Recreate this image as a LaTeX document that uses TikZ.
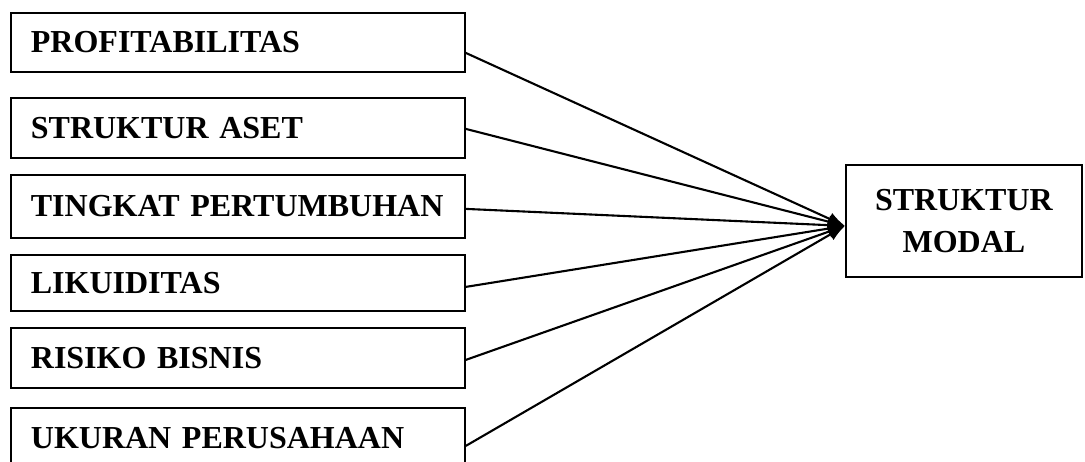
\documentclass[tikz,border=0pt]{standalone}
\usepackage{fontspec}
\setmainfont{Liberation Serif}
\usetikzlibrary{arrows.meta}
\begin{document}
\begin{tikzpicture}[x=1pt,y=-1pt,
  varbox/.style={draw, line width=1.8pt, anchor=north west, inner xsep=20pt, inner ysep=0pt,
    text width=414pt, align=left, font=\fontsize{32}{38}\selectfont\bfseries},
  targetbox/.style={draw, line width=1.8pt, anchor=north west, inner sep=0pt,
    minimum width=236pt, minimum height=112pt, align=center,
    font=\fontsize{32}{42}\selectfont\bfseries},
  conn/.style={line width=2.1pt, -{Latex[length=17pt,width=13pt]}}]
\useasboundingbox (0,0) rectangle (1085,461);
\clip (0,0) rectangle (1085,461);
\fill[white] (0,0) rectangle (1085,461);
\node[varbox, minimum height=59pt] (b1) at (10,12) {PROFITABILITAS};
\node[varbox, minimum height=60pt] (b2) at (10,97) {STRUKTUR ASET};
\node[varbox, minimum height=63pt] (b3) at (10,174) {TINGKAT PERTUMBUHAN};
\node[varbox, minimum height=56pt] (b4) at (10,254) {LIKUIDITAS};
\node[varbox, minimum height=60pt] (b5) at (10,327) {RISIKO BISNIS};
\node[varbox, minimum height=60pt] (b6) at (10,407) {UKURAN PERUSAHAAN};
\node[targetbox] (t) at (845,164) {STRUKTUR\\MODAL};
\coordinate (tip) at ([yshift=-5pt]t.west);
\draw[conn] ([yshift=-10.5pt]b1.east) -- (tip);
\draw[conn] ([yshift=-1pt]b2.east) -- (tip);
\draw[conn] ([yshift=-2.5pt]b3.east) -- (tip);
\draw[conn] ([yshift=-4pt]b4.east) -- (tip);
\draw[conn] ([yshift=-2pt]b5.east) -- (tip);
\draw[conn] ([yshift=-8pt]b6.east) -- (tip);
\end{tikzpicture}
\end{document}
